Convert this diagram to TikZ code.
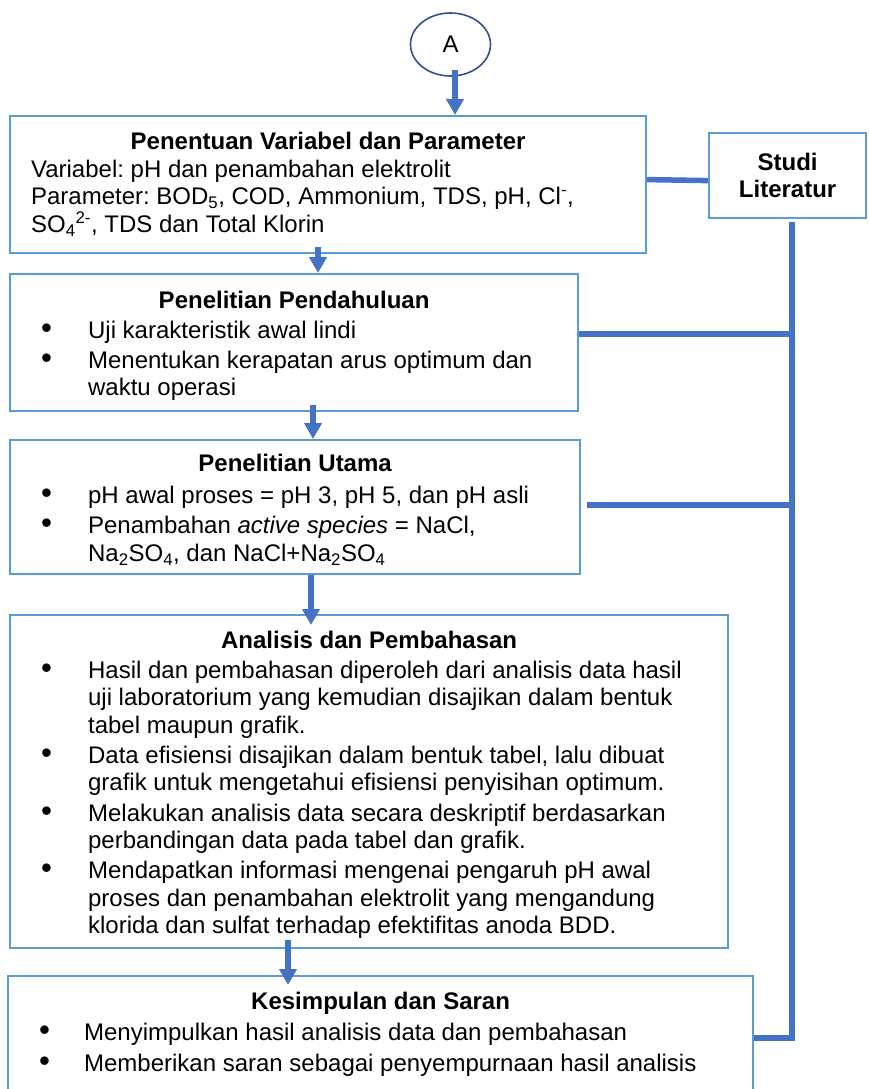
\documentclass[tikz,border=0pt]{standalone}
\usepackage{fontspec}
\setmainfont{Liberation Sans}
\usepackage{enumitem}
\usetikzlibrary{shapes.geometric, arrows.meta, calc}
\definecolor{BoxBlue}{RGB}{91, 155, 213}
\definecolor{LinkBlue}{RGB}{68, 114, 196}
\definecolor{RingBlue}{RGB}{47, 82, 143}
\frenchspacing

\newlist{butir}{itemize}{1}
\setlist[butir]{label=\scalebox{1.3}{\textbullet}, leftmargin=78pt, labelwidth=47pt, labelsep=0pt, align=left, topsep=2pt, itemsep=2.5pt, parsep=0pt, partopsep=0pt}

\tikzset{
  tahap/.style={draw=BoxBlue, line width=2.2pt, fill=white, inner sep=0pt, anchor=north west},
  garis/.style={draw=LinkBlue, line width=5.5pt},
  alur/.style={garis, -{Triangle[length=16pt, width=17pt]}},
}

\begin{document}
\begin{tikzpicture}[x=1pt, y=-1pt, font=\fontsize{24}{27.6}\selectfont]
\useasboundingbox (0,0) rectangle (869,1089);

% penghubung A
\node[draw=RingBlue, line width=1.6pt, ellipse, minimum width=80pt, minimum height=63pt, inner sep=0pt] (ringA) at (450.5,44.5) {A};

% tahapan
\node[tahap] (box1) at (9,115) {
\begin{minipage}[t][137pt][t]{636pt}
\vspace*{16pt}
{\centering\bfseries Penentuan Variabel dan Parameter\par}
\leftskip=21pt
Variabel: pH dan penambahan elektrolit\\
Parameter: BOD\textsubscript{5}, COD, Ammonium, TDS, pH, Cl\textsuperscript{-},\\
SO\textsubscript{4}\textsuperscript{2-}, TDS dan Total Klorin
\end{minipage}
};

\node[tahap, minimum width=157pt, minimum height=85pt, align=center] (studi) at (708,132) {\textbf{Studi}\\\textbf{Literatur}};

\node[tahap] (box2) at (9,273) {
\begin{minipage}[t][137pt][t]{568pt}
\vspace*{17pt}
{\centering\bfseries Penelitian Pendahuluan\par}
\begin{butir}
\item Uji karakteristik awal lindi
\item Menentukan kerapatan arus optimum dan\\
waktu operasi
\end{butir}
\end{minipage}
};

\node[tahap] (box3) at (9,439) {
\begin{minipage}[t][134pt][t]{570pt}
\vspace*{14.5pt}
{\centering\bfseries Penelitian Utama\par}
\begin{butir}[topsep=4pt]
\item pH awal proses = pH 3, pH 5, dan pH asli
\item Penambahan \textit{active species} = NaCl,\\
Na\textsubscript{2}SO\textsubscript{4}, dan NaCl+Na\textsubscript{2}SO\textsubscript{4}
\end{butir}
\end{minipage}
};

\node[tahap] (box4) at (9,614) {
\begin{minipage}[t][333pt][t]{718pt}
\vspace*{16pt}
{\centering\bfseries Analisis dan Pembahasan\par}
\begin{butir}
\item Hasil dan pembahasan diperoleh dari analisis data hasil\\
uji laboratorium yang kemudian disajikan dalam bentuk\\
tabel maupun grafik.
\item Data efisiensi disajikan dalam bentuk tabel, lalu dibuat\\
grafik untuk mengetahui efisiensi penyisihan optimum.
\item Melakukan analisis data secara deskriptif berdasarkan\\
perbandingan data pada tabel dan grafik.
\item Mendapatkan informasi mengenai pengaruh pH awal\\
proses dan penambahan elektrolit yang mengandung\\
klorida dan sulfat terhadap efektifitas anoda BDD.
\end{butir}
\end{minipage}
};

\node[tahap] (box5) at (7,975) {
\begin{minipage}[t][140pt][t]{745pt}
\vspace*{15.5pt}
{\centering\bfseries Kesimpulan dan Saran\par}
\begin{butir}[leftmargin=76pt, labelwidth=45pt, topsep=4pt, itemsep=3pt]
\item Menyimpulkan hasil analisis data dan pembahasan
\item Memberikan saran sebagai penyempurnaan hasil analisis
\end{butir}
\end{minipage}
};

% alur utama
\draw[alur] ([xshift=4.5pt, yshift=7pt]ringA.south) coordinate (s1) -- (s1 |- box1.north);
\draw[alur] ([xshift=309pt, yshift=7pt]box1.south west) coordinate (s2) -- (s2 |- box2.north);
\draw[alur] ([xshift=304pt, yshift=7pt]box2.south west) coordinate (s3) -- (s3 |- box3.north);
\draw[alur] ([xshift=302pt]box3.south west) coordinate (s4) -- ($(s4 |- box4.north)+(0,11)$);
\draw[alur] ([xshift=279pt, yshift=9pt]box4.south west) coordinate (s5) -- ($(s5 |- box5.north)+(0,10)$);

% studi literatur
\coordinate (busatas) at (792,222);
\coordinate (busbawah) at (792,1038);
\draw[garis] ([yshift=5pt]box1.east) -- ([yshift=-5pt]studi.west);
\draw[garis] (busatas) -- (busbawah) -- (busbawah -| box5.east);
\draw[garis] ([yshift=8.5pt]box2.east) -- ([yshift=8.5pt]box2.east -| busatas);
\draw[garis] ([xshift=6pt, yshift=2pt]box3.east) -- ([yshift=2pt]box3.east -| busatas);
\end{tikzpicture}
\end{document}
